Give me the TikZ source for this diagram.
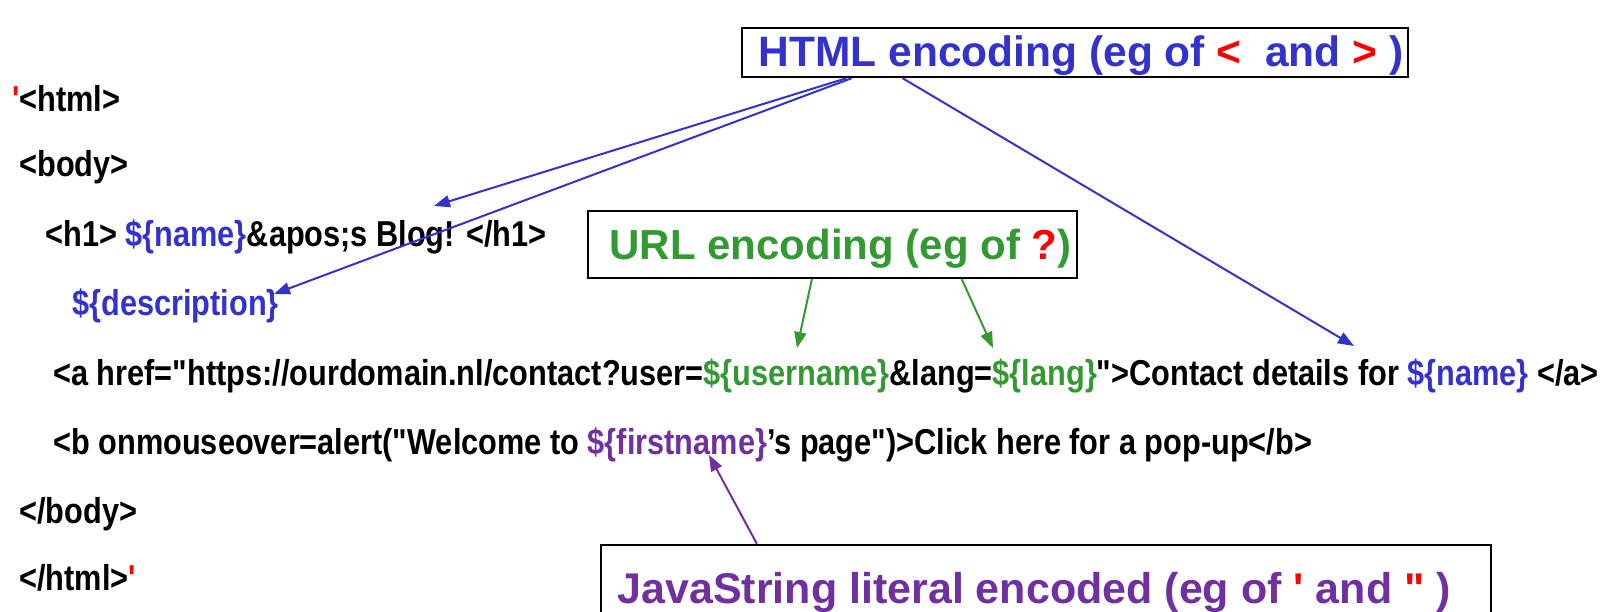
\documentclass[tikz,border=0pt]{standalone}
\usepackage{fontspec}
\usetikzlibrary{arrows.meta,calc}
\newfontfamily\boxfont[Ligatures=TeXOff]{Liberation Sans}
\newfontfamily\codefont[Ligatures=TeXOff,FakeStretch=0.853]{Liberation Sans}
\definecolor{encblue}{RGB}{51,51,204}
\definecolor{encgreen}{RGB}{51,153,51}
\definecolor{encpurple}{RGB}{112,48,160}
\definecolor{quotered}{RGB}{255,0,0}
\newcommand\tplvar[2]{\textcolor{#1}{\$\{#2\}}}
\begin{document}
\begin{tikzpicture}[x=0.5pt,y=-0.5pt,
  codeline/.style={anchor=base west,inner sep=0pt,
    font=\codefont\bfseries\fontsize{18}{18}\selectfont},
  encbox/.style={draw=black,line width=1.2pt,fill=white,inner sep=0pt,
    font=\boxfont\bfseries\fontsize{21}{21}\selectfont},
  encarrow/.style={line width=1pt,-{Triangle[length=8pt,width=6pt]}}]
\useasboundingbox (0,0) rectangle (1612,611);

% template source
\node[codeline] (l1) at (12,111) {\textcolor{quotered}{'}<html>};
\node[codeline] (l2) at (19,176) {<body>};
\node[codeline] (l3) at (45,246) {<h1> \tplvar{encblue}{name}\&apos;s Blog! </h1>};
\node[codeline] (l4) at (72,315) {\tplvar{encblue}{description}};
\node[codeline] (l5) at (53,385) {<a href="https://ourdomain.nl/contact?user=\tplvar{encgreen}{username}\&lang=\tplvar{encgreen}{lang}">Contact details for \tplvar{encblue}{name} </a>};
\node[codeline] (l6) at (53,454) {<b onmouseover=alert("Welcome to \tplvar{encpurple}{firstname}’s page")>Click here for a pop-up</b>};
\node[codeline] (l7) at (19,523) {</body>};
\node[codeline] (l8) at (19,590) {</html>\textcolor{quotered}{'}};

% encoding contexts
\node[encbox,text=encblue,minimum width=333pt,minimum height=24.5pt,
      font=\boxfont\bfseries\fontsize{21.25}{21.25}\selectfont,
      text height=14pt,text depth=0pt] (html) at (1075,52.5)
  {\hspace*{6pt}HTML encoding (eg of \textcolor{quotered}{<}\ \ and \textcolor{quotered}{>} )};
\node[encbox,text=encgreen,minimum width=244.5pt,minimum height=33.5pt,
      text height=14.5pt,text depth=0pt] (url) at (832.5,244.5)
  {\hspace*{8pt}URL encoding (eg of \textcolor{quotered}{?})};
\node[encbox,text=encpurple,minimum width=445pt,minimum height=47pt,
      font=\boxfont\bfseries\fontsize{21.5}{21.5}\selectfont] (js) at (1046,592)
  {JavaString literal encoded (eg of \textcolor{quotered}{'} and \textcolor{quotered}{"} )\hspace*{11.8pt}};

% arrow targets inside the source text
\coordinate (blogtip) at (434,206);
\coordinate (desctip) at (274,294);
\coordinate (nametip) at (1354,346);
\coordinate (usertip) at (797,348);
\coordinate (langtip) at (993,348);
\coordinate (firsttip) at (709,455);

\draw[encarrow,encblue] ($(html.south west)!0.158!(html.south east)$) -- (blogtip);
\draw[encarrow,encblue] ($(html.south west)!0.166!(html.south east)$) -- (desctip);
\draw[encarrow,encblue] ($(html.south west)!0.242!(html.south east)$) -- (nametip);
\draw[encarrow,encgreen] ($(url.south west)!0.458!(url.south east)$) -- (usertip);
\draw[encarrow,encgreen] ($(url.south west)!0.763!(url.south east)$) -- (langtip);
\draw[encarrow,encpurple] ($(js.north west)!0.176!(js.north east)$) -- (firsttip);
\end{tikzpicture}
\end{document}
